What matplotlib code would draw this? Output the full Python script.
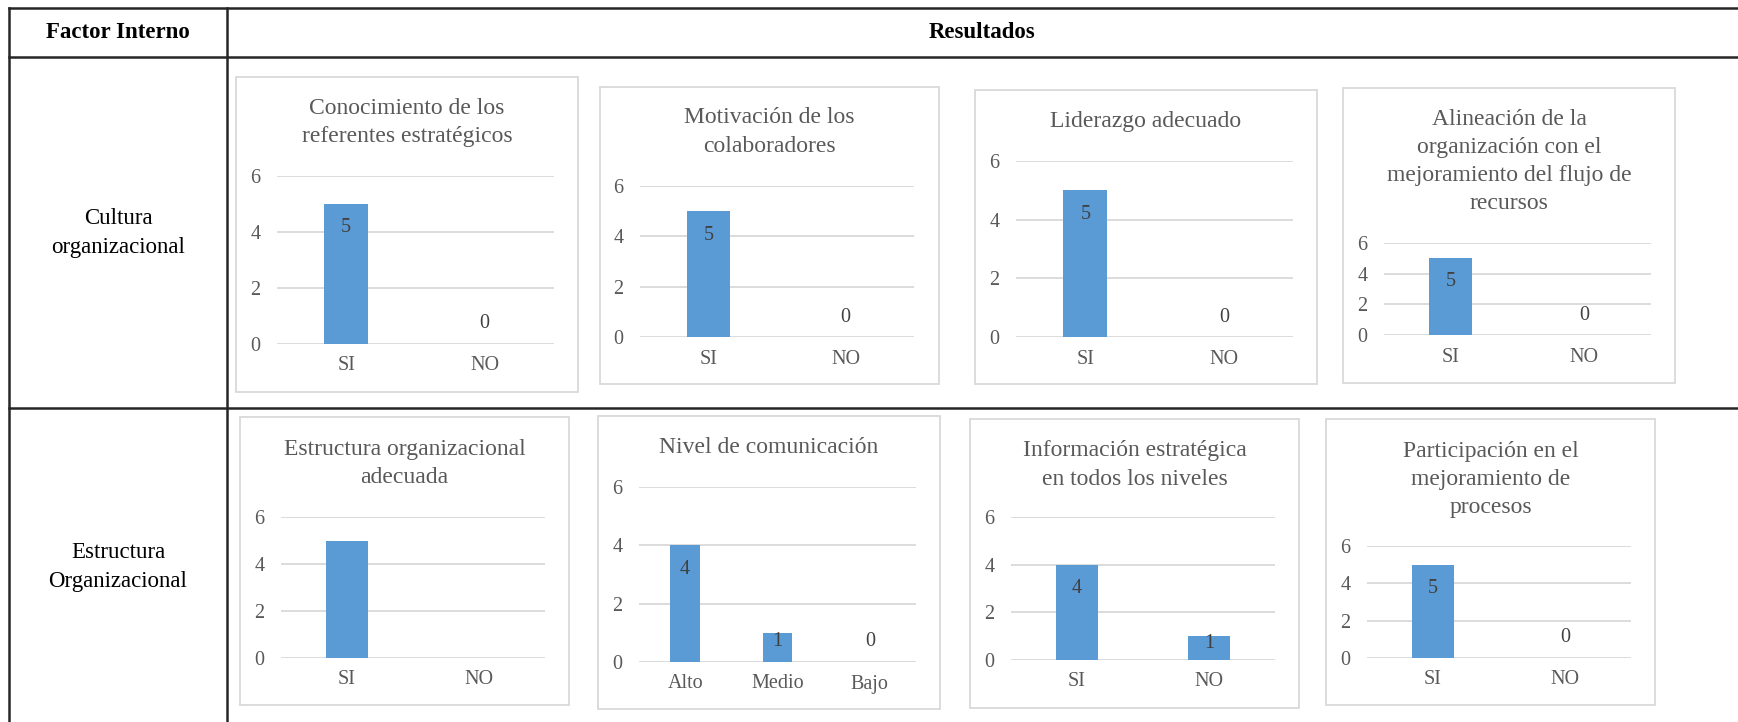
import matplotlib.pyplot as plt
import matplotlib.patches as patches
from matplotlib.lines import Line2D

plt.rcParams['font.family'] = ['Liberation Serif', 'DejaVu Serif']

# Data
row_labels = ['Cultura\norganizacional', 'Estructura\nOrganizacional']
titles = ['Conocimiento de los\nreferentes estratégicos',
          'Motivación de los\ncolaboradores',
          'Liderazgo adecuado',
          'Alineación de la\norganización con el\nmejoramiento del flujo de\nrecursos',
          'Estructura organizacional\nadecuada',
          'Nivel de comunicación',
          'Información estratégica\nen todos los niveles',
          'Participación en el\nmejoramiento de\nprocesos']
si_no = ['SI', 'NO']
niveles = ['Alto', 'Medio', 'Bajo']
cats = [si_no, si_no, si_no, si_no, si_no, niveles, si_no, si_no]
vals = [[5, 0], [5, 0], [5, 0], [5, 0], [5, 0], [4, 1, 0], [4, 1], [5, 0]]
show_labels = [True, True, True, True, False, True, True, True]
yticks = [0, 2, 4, 6]

# Layout in pixels (left, top, right, bottom) of chart box, axes x-range, y6/y0, title line centres
W, H = 1738, 722
boxes = [(236, 77, 578, 392), (600, 87, 939, 384), (975, 90, 1317, 384), (1343, 88, 1675, 383),
         (240, 417, 569, 705), (598, 416, 940, 709), (970, 419, 1299, 708), (1326, 419, 1655, 705)]
axes_px = [(277, 554, 176, 344), (640, 914, 186, 337), (1016, 1293, 161, 337), (1384, 1651, 243, 335),
           (281, 545, 517, 658), (639, 916, 487, 662), (1011, 1275, 517, 660), (1367, 1631, 546, 658)]
title_y = [(108, 137), (118, 146), (121, 121), (120, 203), (450, 477), (448, 448), (451, 479), (452, 507)]

fig = plt.figure(figsize=(W / 100, H / 100), dpi=100)

def fx(x):
    return x / W

def fy(y):
    return 1 - y / H

line_kw = dict(color='#262626', lw=1.8, transform=fig.transFigure)
# table lines
fig.add_artist(Line2D([fx(9), 1], [fy(8), fy(8)], **line_kw))
fig.add_artist(Line2D([fx(9), 1], [fy(57), fy(57)], **line_kw))
fig.add_artist(Line2D([fx(9), 1], [fy(408), fy(408)], **line_kw))
fig.add_artist(Line2D([fx(9), fx(9)], [fy(8), 0], **line_kw))
fig.add_artist(Line2D([fx(227), fx(227)], [fy(8), 0], **line_kw))

fig.text(fx(118), fy(32), 'Factor Interno', ha='center', va='center', fontsize=16.5, fontweight='bold')
fig.text(fx(982), fy(32), 'Resultados', ha='center', va='center', fontsize=16.5, fontweight='bold')
fig.text(fx(118), fy(233), row_labels[0], ha='center', va='center', fontsize=16.5, linespacing=1.5)
fig.text(fx(118), fy(567), row_labels[1], ha='center', va='center', fontsize=16.5, linespacing=1.5)

grey = '#595959'
for i in range(len(titles)):
    l, t, r, b = boxes[i]
    fig.add_artist(patches.Rectangle((fx(l), fy(b)), fx(r - l), (b - t) / H, fill=False,
                                     edgecolor='#D9D9D9', lw=1.3, transform=fig.transFigure))
    x0, x1, y6, y0 = axes_px[i]
    ax = fig.add_axes([fx(x0), fy(y0), fx(x1 - x0), (y0 - y6) / H])
    n = len(cats[i])
    ax.bar(range(n), vals[i], width=0.32, color='#5B9BD5', zorder=3)
    ax.set_xlim(-0.5, n - 0.5)
    ax.set_ylim(0, 6)
    ax.set_yticks(yticks)
    ax.set_xticks(range(n))
    ax.set_xticklabels(cats[i])
    ax.grid(axis='y', color='#D9D9D9', lw=1.3, zorder=0)
    for s in ax.spines.values():
        s.set_visible(False)
    ax.tick_params(length=0, labelsize=14.5, labelcolor=grey)
    ax.tick_params(axis='y', pad=12)
    ax.tick_params(axis='x', pad=9)
    ax.set_facecolor('none')
    # title
    ty = (title_y[i][0] + title_y[i][1]) / 2
    fig.text(fx((l + r) / 2), fy(ty), titles[i], ha='center', va='center',
             fontsize=17, color=grey, linespacing=1.45)
    if show_labels[i]:
        px_per_unit = (y0 - y6) / 6
        for k, v in enumerate(vals[i]):
            if v > 0:
                off = min(24, 0.3 * v * px_per_unit)
                dy = -off * 0.72
            else:
                dy = 20 * 0.72
            ax.annotate(str(v), (k, v), xytext=(0, dy), textcoords='offset points',
                        ha='center', va='center', fontsize=14.5, color='#404040', zorder=4)

fig.savefig('out.png', dpi=100, facecolor='white')
